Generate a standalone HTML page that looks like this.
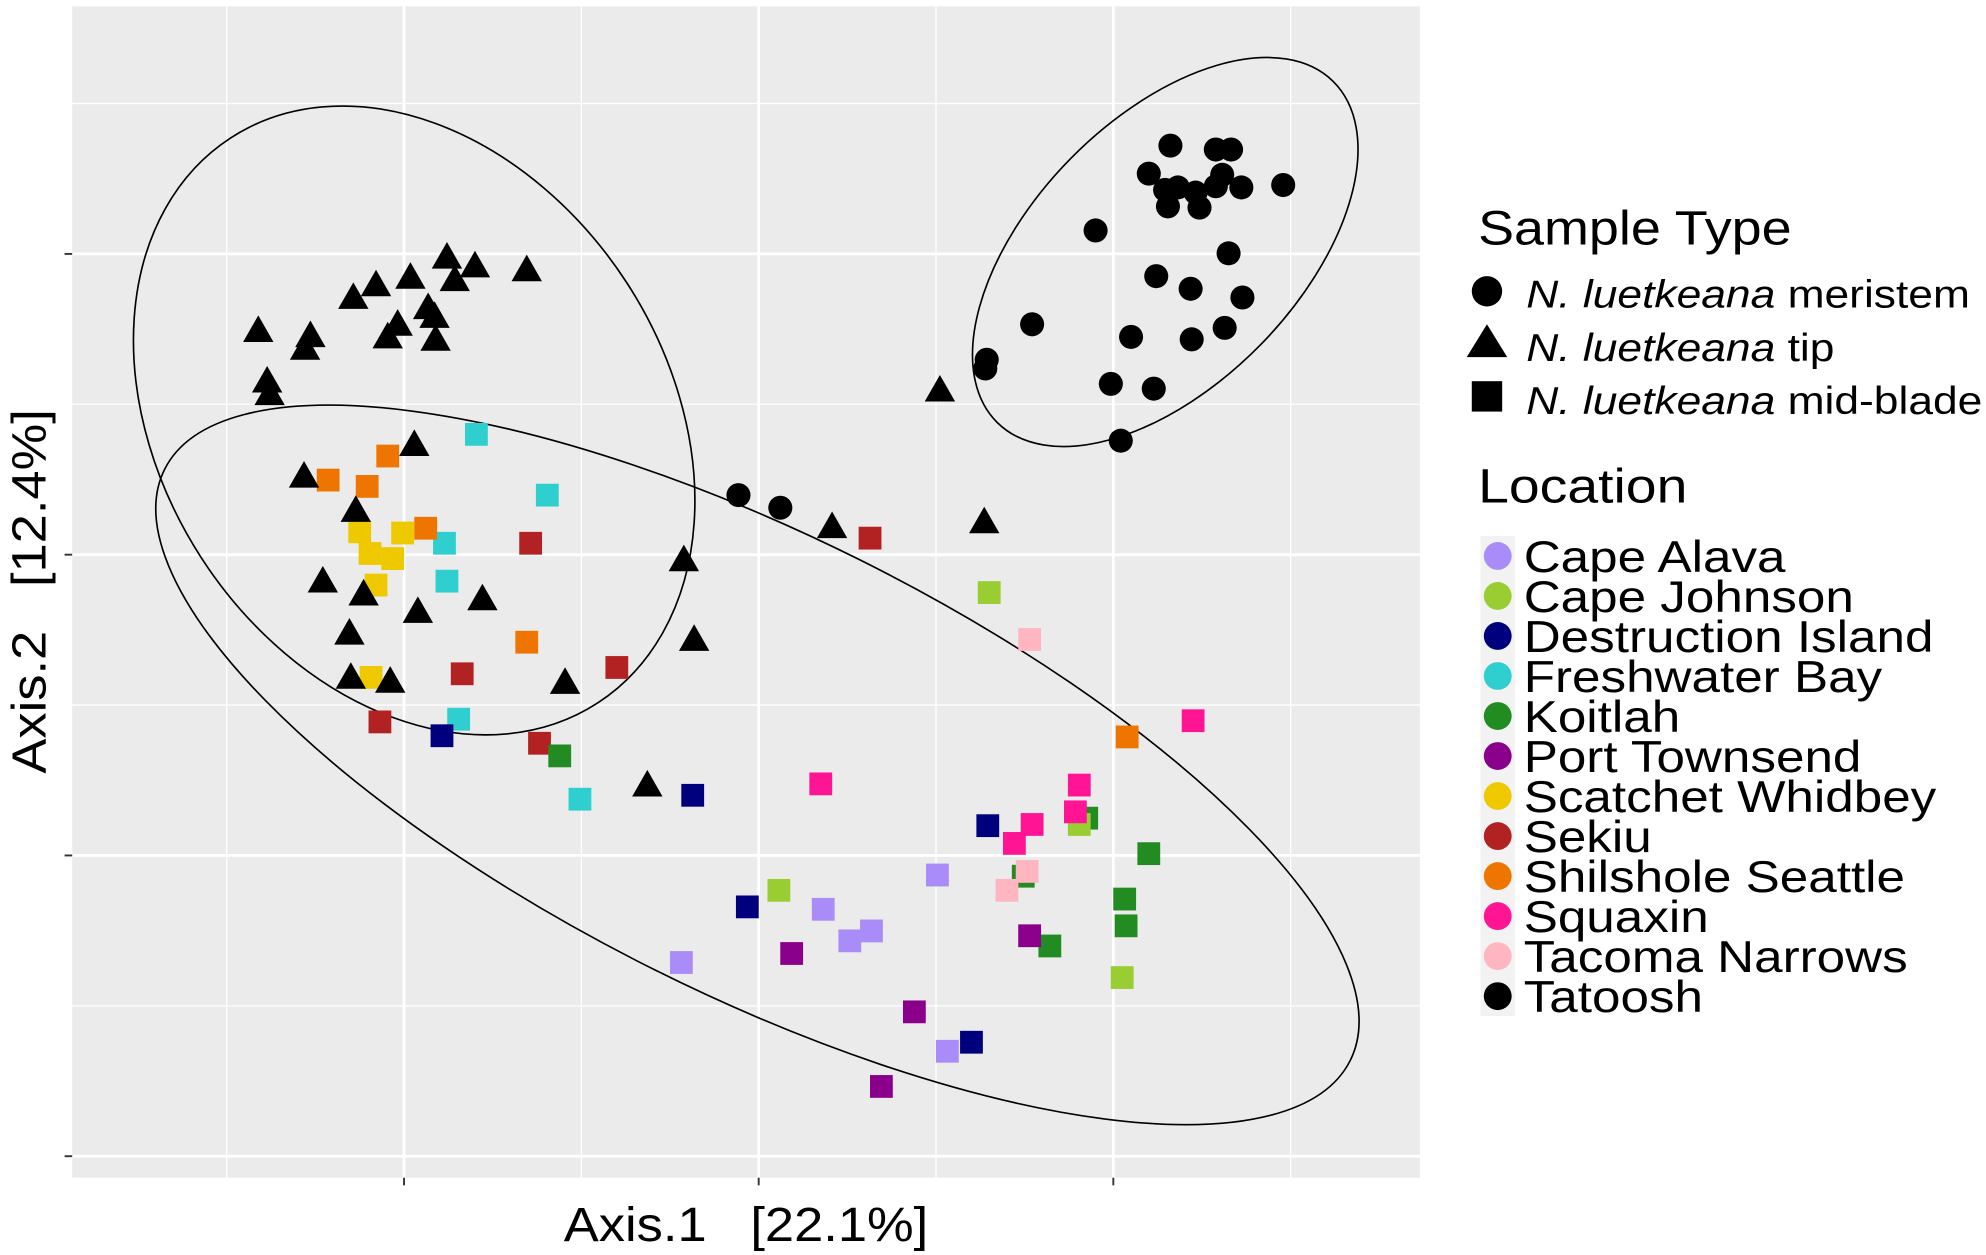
<!DOCTYPE html>
<html><head><meta charset="utf-8"><style>
html,body{margin:0;padding:0;background:#fff}
svg{display:block;font-family:"Liberation Sans",sans-serif}
</style></head><body>
<svg id="chart" width="1986" height="1255" viewBox="0 0 1568 991" preserveAspectRatio="none" xmlns="http://www.w3.org/2000/svg">
<rect x="57" y="5" width="1064" height="925" fill="#ebebeb"/>
<g id="grid"></g>
<g id="ellipses" fill="none" stroke="#000" stroke-width="1.3">
<ellipse cx="920" cy="199" rx="189" ry="105" transform="rotate(-45.5 920 199)"/>
<ellipse cx="327" cy="332" rx="200" ry="266" transform="rotate(-33 327 332)"/>
<ellipse cx="598" cy="604" rx="523" ry="181" transform="rotate(26.5 598 604)"/>
</g>
<g id="marks"></g>
<g id="ticks"></g>
<text x="589" y="980" font-size="38" text-anchor="middle" xml:space="preserve" transform="translate(589 0) scale(1.09 1) translate(-589 0)">Axis.1   [22.1%]</text>
<text x="0" y="0" font-size="38" text-anchor="middle" transform="translate(36 467) rotate(-90) scale(1.09 1)" xml:space="preserve">Axis.2   [12.4%]</text>
<g>
<text x="1167" y="193" font-size="38" transform="translate(1167 0) scale(1.12 1) translate(-1167 0)">Sample Type</text>
<circle cx="1174" cy="230" r="12" fill="#000"/>
<g transform="translate(1205 0) scale(1.13 1) translate(-1205 0)">
<text x="1205" y="243" font-size="31"><tspan font-style="italic">N. luetkeana</tspan> meristem</text>
<text x="1205" y="285" font-size="31"><tspan font-style="italic">N. luetkeana</tspan> tip</text>
<text x="1205" y="327" font-size="31"><tspan font-style="italic">N. luetkeana</tspan> mid-blade</text>
</g>
<path d="M1174 256 L1190 282 L1158 282 Z" fill="#000"/>
<rect x="1162" y="301" width="24" height="24" fill="#000"/>
</g>
<g id="legend-loc">
<text x="1167" y="397" font-size="38" transform="translate(1167 0) scale(1.15 1) translate(-1167 0)">Location</text>
</g>
<script>
const locNames = ["Cape Alava","Cape Johnson","Destruction Island","Freshwater Bay","Koitlah","Port Townsend","Scatchet Whidbey","Sekiu","Shilshole Seattle","Squaxin","Tacoma Narrows","Tatoosh"];
const locColors = ["#a98cf7","#9acd32","#00007f","#2fcfcf","#228b22","#8b008b","#eec900","#b22222","#ee7600","#ff1493","#ffb6c1","#000000"];
const xTicks = [-1,0,1];
const xMinor = [-1.5,-0.5,0.5,1.5];
const yTicks = [1,0,-1,-2];
const yMinor = [1.5,0.5,-0.5,-1.5];
// Tatoosh meristem circles
const circX = [1.161,1.289,1.332,1.1,1.146,1.182,1.232,1.307,1.289,1.361,1.479,1.154,1.243,0.95,1.325,1.121,1.218,1.364,0.771,1.05,1.221,1.314,0.643,0.639,0.993,1.114,1.021,-0.057,0.061];
const circY = [1.36,1.347,1.347,1.267,1.213,1.221,1.204,1.263,1.225,1.221,1.229,1.158,1.154,1.078,1.002,0.926,0.884,0.855,0.766,0.724,0.716,0.754,0.648,0.619,0.568,0.552,0.379,0.198,0.156];
// Tatoosh tip triangles
const triX = [-0.879,-0.8,-0.654,-1.079,-0.982,-1.143,-0.857,-0.932,-0.914,-1.018,-1.046,-0.911,-1.411,-1.264,-1.279,-1.386,-1.379,-0.971,-1.282,0.511,-1.136,0.207,0.636,-0.211,-1.229,-1.114,-0.779,-0.961,-1.154,-0.182,-0.546,-1.15,-1.039,-0.314];
const triY = [0.989,0.96,0.947,0.897,0.922,0.855,0.914,0.821,0.792,0.766,0.724,0.716,0.745,0.728,0.686,0.577,0.535,0.366,0.261,0.547,0.147,0.093,0.109,-0.017,-0.088,-0.131,-0.147,-0.189,-0.261,-0.282,-0.425,-0.408,-0.421,-0.766];
// mid-blade squares
const sqLoc = [3,3,3,3,3,3, 8,8,8,8,8,8, 6,6,6,6,6,6, 7,7,7,7,7,7, 2,2,2,2,2, 4,4,4,4,4,4,4, 1,1,1,1, 10,10,10, 9,9,9,9,9,9, 0,0,0,0,0,0, 5,5,5,5];
const sqX = [-0.796,-0.596,-0.886,-0.879,-0.846,-0.504, -1.214,-1.104,-1.046,-0.939,-0.654,1.039, -1.125,-1.004,-1.096,-1.032,-1.079,-1.093, -0.643,0.314,-0.836,-0.4,-1.068,-0.618, -0.893,-0.186,0.646,-0.032,0.6, -0.561,0.925,1.1,0.746,1.032,1.036,0.821, 0.65,0.904,0.057,1.025, 0.764,0.757,0.7, 1.225,0.175,0.904,0.893,0.771,0.721, 0.504,0.182,0.318,0.257,-0.218,0.532, 0.764,0.093,0.439,0.346];
const sqY = [0.4,0.198,0.038,-0.088,-0.547,-0.813, 0.248,0.227,0.328,0.088,-0.291,-0.606, 0.076,0.072,0.004,-0.013,-0.101,-0.408, 0.038,0.055,-0.396,-0.375,-0.556,-0.627, -0.602,-0.8,-0.901,-1.171,-1.621, -0.669,-0.876,-0.994,-1.069,-1.145,-1.234,-1.301, -0.126,-0.897,-1.116,-1.406, -0.282,-1.053,-1.116, -0.552,-0.762,-0.766,-0.855,-0.897,-0.96, -1.065,-1.179,-1.251,-1.284,-1.356,-1.651, -1.267,-1.326,-1.52,-1.768];

const NS = "http://www.w3.org/2000/svg";
const xS = v => 599 + v*280;
const yS = v => 438 - v*237.5;
function mk(tag, attrs, parent){const e=document.createElementNS(NS,tag);for(const k in attrs)e.setAttribute(k,attrs[k]);parent.appendChild(e);return e;}
const grid=document.getElementById('grid'), marks=document.getElementById('marks'), ticks=document.getElementById('ticks');
xMinor.forEach(v=>{const l=mk('line',{x1:xS(v),x2:xS(v),y1:5,y2:930,stroke:'#fff','stroke-width':1},grid);

});
yMinor.forEach(v=>{const l=mk('line',{x1:57,x2:1121,y1:yS(v),y2:yS(v),stroke:'#fff','stroke-width':1},grid);

});
xTicks.forEach(v=>{const l=mk('line',{x1:xS(v),x2:xS(v),y1:5,y2:930,stroke:'#fff','stroke-width':2.2},grid);


const t=mk('line',{x1:xS(v),x2:xS(v),y1:930,y2:936,stroke:'#333','stroke-width':1.5},ticks);

});
yTicks.forEach(v=>{const l=mk('line',{x1:57,x2:1121,y1:yS(v),y2:yS(v),stroke:'#fff','stroke-width':2.2},grid);


const t=mk('line',{x1:51,x2:57,y1:yS(v),y2:yS(v),stroke:'#333','stroke-width':1.5},ticks);

});
sqX.forEach((v,i)=>{const r=mk('rect',{x:xS(v)-9,y:yS(sqY[i])-9,width:18,height:18,fill:locColors[sqLoc[i]]},marks);

});
circX.forEach((v,i)=>{const c=mk('circle',{cx:xS(v),cy:yS(circY[i]),r:9.5,fill:'#000'},marks);

});
triX.forEach((v,i)=>{const x=xS(v),y=yS(triY[i]);const p=mk('path',{d:`M${x} ${y-12} L${x+12} ${y+9} L${x-12} ${y+9} Z`,fill:'#000'},marks);

});
const lg=document.getElementById('legend-loc');
locNames.forEach((n,i)=>{const y=439+i*31.6;
const bg=mk('rect',{x:1169,y:y-15.8,width:27,height:31.6,fill:'#f2f2f2'},lg);


const c=mk('circle',{cx:1182.5,cy:y,r:11,fill:locColors[i]},lg);


const t=mk('text',{x:1203,y:y+12.5,'font-size':35,transform:'translate(1203 0) scale(1.155 1) translate(-1203 0)'},lg);t.textContent=n;

});
</script>
</svg>
</body></html>
